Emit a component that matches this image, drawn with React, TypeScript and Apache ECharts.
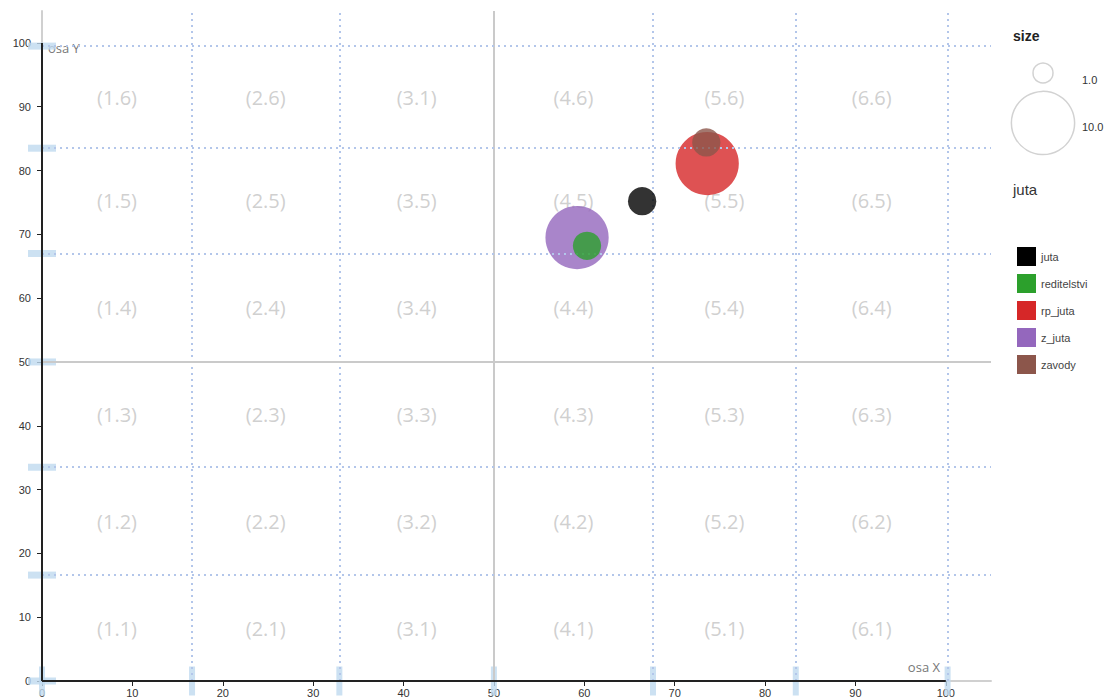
import React, { useEffect, useRef } from "react";
import * as echarts from "echarts";

// ---- data ----
const xBounds = [0, 16.6, 32.9, 50, 67.6, 83.4, 100.2];
const yBounds = [0, 16.6, 33.5, 50, 67, 83.5, 99.5];
const axisTicks = [0, 10, 20, 30, 40, 50, 60, 70, 80, 90, 100];
// rows from bottom (row 1) to top (row 6)
const cellLabels = [
  ["(1.1)", "(2.1)", "(3.1)", "(4.1)", "(5.1)", "(6.1)"],
  ["(1.2)", "(2.2)", "(3.2)", "(4.2)", "(5.2)", "(6.2)"],
  ["(1.3)", "(2.3)", "(3.3)", "(4.3)", "(5.3)", "(6.3)"],
  ["(1.4)", "(2.4)", "(3.4)", "(4.4)", "(5.4)", "(6.4)"],
  ["(1.5)", "(2.5)", "(3.5)", "(4.5)", "(5.5)", "(6.5)"],
  ["(1.6)", "(2.6)", "(3.1)", "(4.6)", "(5.6)", "(6.6)"],
];
const seriesNames = ["juta", "reditelstvi", "rp_juta", "z_juta", "zavody"];
const seriesColors = ["#000000", "#2ca02c", "#d62728", "#9467bd", "#8c564b"];
// [x, y, size]
const bubbleValues: number[][] = [
  [66.4, 75.2, 2],
  [60.3, 68.2, 2],
  [73.6, 81.1, 10],
  [59.2, 69.5, 10],
  [73.5, 84.4, 2],
];
const sizeLegendValues = [1.0, 10.0];

const radiusFor = (size: number) => 10 * Math.sqrt(size);

export default function App() {
  const ref = useRef<HTMLDivElement>(null);
  useEffect(() => {
    document.body.style.margin = "0";
    if (!ref.current) return;
    const chart = echarts.init(ref.current, undefined, { renderer: "svg" });

    const cellData: any[] = [];
    for (let r = 0; r < 6; r++) {
      for (let c = 0; c < 6; c++) {
        cellData.push({
          value: [(xBounds[c] + xBounds[c + 1]) / 2, (yBounds[r] + yBounds[r + 1]) / 2],
          name: cellLabels[r][c],
        });
      }
    }

    const dotted = { color: "#b3c6ea", width: 2, type: [2, 4] as any };
    const solidGray = { color: "#cacaca", width: 2, type: "solid" as any };
    const gridLines: any[] = [];
    xBounds.slice(1).forEach((b) => {
      gridLines.push({ xAxis: b, lineStyle: b === 50 ? solidGray : dotted });
    });
    yBounds.slice(1).forEach((b) => {
      gridLines.push({ yAxis: b, lineStyle: b === 50 ? solidGray : dotted });
    });
    const axisBlack = { color: "#222", width: 2, type: "solid" as any };
    gridLines.push([
      { coord: [0, 0], lineStyle: axisBlack },
      { coord: [100, 0] },
    ]);
    gridLines.push([
      { coord: [0, 0], lineStyle: axisBlack },
      { coord: [0, 100] },
    ]);

    const axisCommon = {
      type: "value" as const,
      min: 0,
      max: 105,
      interval: 10,
      splitLine: { show: false },
      axisLine: { show: true, lineStyle: { color: "#d0d0d0", width: 2 } },
      axisTick: {
        show: true,
        customValues: axisTicks,
        length: 5,
        lineStyle: { color: "#222", width: 1 },
      },
    };

    const bubbleSeries = seriesNames.map((name, i) => ({
      name,
      type: "scatter",
      z: bubbleValues[i][2] >= 5 ? 4 : 5,
      data: [bubbleValues[i]],
      symbolSize: (v: number[]) => 2 * radiusFor(v[2]),
      itemStyle: { color: seriesColors[i], opacity: 0.8 },
      emphasis: { disabled: true },
    }));

    const option: any = {
      animation: false,
      grid: { left: 42, right: 114, top: 11, bottom: 18, containLabel: false, outerBoundsMode: "none" },
      xAxis: {
        ...axisCommon,
        axisLabel: {
          customValues: axisTicks,
          fontSize: 11,
          color: "#333",
          fontFamily: "Liberation Sans",
          margin: 6,
        },
      },
      yAxis: {
        ...axisCommon,
        axisLabel: {
          customValues: axisTicks,
          fontSize: 11,
          color: "#333",
          fontFamily: "Liberation Sans",
          margin: 11,
        },
      },
      legend: {
        data: seriesNames,
        orient: "vertical",
        left: 1012,
        top: 242,
        itemWidth: 19,
        itemHeight: 19,
        itemGap: 8,
        icon: "rect",
        itemStyle: { opacity: 1 },
        textStyle: { fontSize: 11, color: "#444", fontFamily: "Liberation Sans" },
        selectedMode: false,
      },
      graphic: [
        {
          type: "text",
          left: 1013,
          top: 29,
          style: { text: "size", fontSize: 14, fontWeight: "bold", fill: "#222", fontFamily: "Liberation Sans" },
        },
        {
          type: "text",
          left: 1013,
          top: 182,
          style: { text: "juta", fontSize: 15, fontWeight: "normal", fill: "#333", fontFamily: "Liberation Sans" },
        },
        {
          type: "circle",
          shape: { cx: 1043, cy: 73, r: radiusFor(sizeLegendValues[0]) },
          style: { fill: "none", stroke: "#d2d2d2", lineWidth: 1.5 },
        },
        {
          type: "circle",
          shape: { cx: 1043, cy: 123, r: radiusFor(sizeLegendValues[1]) },
          style: { fill: "none", stroke: "#d2d2d2", lineWidth: 1.5 },
        },
        {
          type: "text",
          x: 1082,
          y: 80,
          style: { text: sizeLegendValues[0].toFixed(1), fontSize: 11, fill: "#333", verticalAlign: "middle", fontFamily: "Liberation Sans" },
        },
        {
          type: "text",
          x: 1082,
          y: 127,
          style: { text: sizeLegendValues[1].toFixed(1), fontSize: 11, fill: "#333", verticalAlign: "middle", fontFamily: "Liberation Sans" },
        },
        {
          type: "text",
          x: 48,
          y: 48,
          style: { text: "osa Y", fontSize: 13, fill: "#777", verticalAlign: "middle", fontFamily: "Open Sans" },
        },
        {
          type: "text",
          x: 940,
          y: 667,
          style: { text: "osa X", fontSize: 13, fill: "#777", align: "right", verticalAlign: "middle", fontFamily: "Open Sans" },
        },
      ],
      series: [
        {
          name: "xmarks",
          type: "scatter",
          z: 1,
          symbol: "rect",
          symbolSize: [6, 29],
          itemStyle: { color: "#bfd9ef" },
          data: xBounds.map((b) => [b, 0]),
          silent: true,
        },
        {
          name: "ymarks",
          type: "scatter",
          z: 1,
          symbol: "rect",
          symbolSize: [28, 7],
          itemStyle: { color: "#bfd9ef" },
          data: yBounds.map((b) => [0, b]),
          silent: true,
        },
        {
          name: "cells",
          type: "scatter",
          z: 2,
          symbolSize: 0,
          data: cellData,
          silent: true,
          label: {
            show: true,
            position: "inside",
            formatter: (p: any) => p.name,
            fontSize: 20,
            color: "#c4c4c4",
            fontFamily: "Open Sans",
          },
          markLine: {
            silent: true,
            symbol: ["none", "none"],
            label: { show: false },
            data: gridLines,
          },
        },
        ...bubbleSeries,
      ],
    };
    chart.setOption(option);
    return () => chart.dispose();
  }, []);
  return <div ref={ref} style={{ width: 1105, height: 699 }} />;
}
